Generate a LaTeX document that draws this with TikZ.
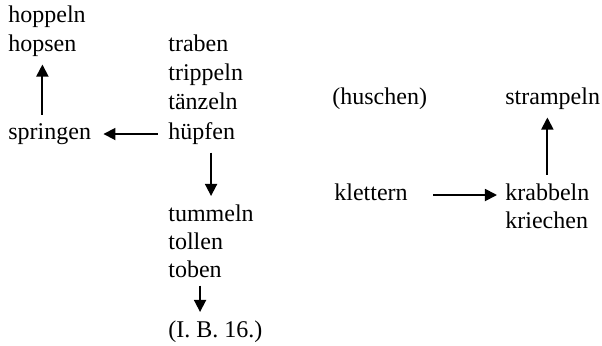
\documentclass[tikz,border=0pt]{standalone}
\usepackage{fontspec}
\setmainfont{Liberation Serif}
\usetikzlibrary{arrows.meta}

\tikzset{
  verb/.style={anchor=base west, inner xsep=0pt, inner ysep=4pt, font=\fontsize{12}{14}\selectfont},
  arr/.style={line width=0.9pt, -{Triangle[length=6pt,width=6pt]}}
}

\begin{document}
\begin{tikzpicture}[x=0.5pt,y=0.5pt,yscale=-1,xscale=1]
\useasboundingbox (0,0) rectangle (602,345);

% Text Node
\node [verb] (hoppeln) at (8,22) {hoppeln};
\node [verb] (hopsen) at (8,51) {hopsen};
\node [verb] (springen) at (8,139) {springen};
% Text Node
\node [verb] (traben) at (168,51) {traben};
\node [verb] (trippeln) at (168,80) {trippeln};
\node [verb] (tanzeln) at (168,109) {tänzeln};
\node [verb] (hupfen) at (168,139) {hüpfen};
% Text Node
\node [verb] (tummeln) at (168,221) {tummeln};
\node [verb] (tollen) at (168,249) {tollen};
\node [verb] (toben) at (168,277) {toben};
\node [verb] (ib) at (168,337) {(I. B. 16.)};
% Text Node
\node [verb] (huschen) at (332,104) {(huschen)};
\node [verb] (strampeln) at (505,104) {strampeln};
\node [verb] (klettern) at (334,200) {klettern};
\node [verb] (krabbeln) at (505,200) {krabbeln};
\node [verb] (kriechen) at (505,228) {kriechen};

%Straight Lines
\draw [arr] (hopsen.south |- springen.north) -- (hopsen.south);
\draw [arr, shorten <=5pt, shorten >=6pt] ([yshift=-2.5pt]hupfen.base west) -- ([yshift=-2.5pt]springen.base east);
\draw [arr] (hupfen.south -| tummeln.north) -- (tummeln.north);
\draw [arr] ([xshift=2.5pt]toben.south) -- ([xshift=2.5pt]toben.south |- ib.north);
%Straight Lines
\draw [arr, shorten <=12.5pt, shorten >=4pt] ([yshift=-2.5pt]klettern.base east) -- ([yshift=-2.5pt]krabbeln.base west);
\draw [arr] (krabbeln.north) -- (krabbeln.north |- strampeln.south);

\end{tikzpicture}
\end{document}
